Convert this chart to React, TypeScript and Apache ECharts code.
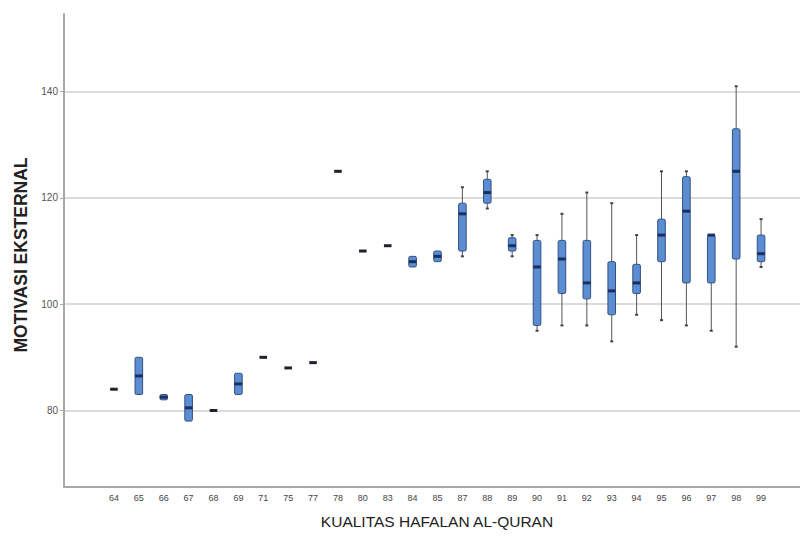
import React, { useEffect, useRef } from "react";
import * as echarts from "echarts";

const categories = ["64","65","66","67","68","69","71","75","77","78","80","83","84","85","87","88","89","90","91","92","93","94","95","96","97","98","99"];
const minValues    = [84, 83, 82,   78,   80, 83, 90, 88, 89, 125, 110, 111, 107, 108, 109, 118,   109,   95, 96,    96,  93,    98,    97,  96,    95, 92,    107];
const q1Values     = [84, 83, 82,   78,   80, 83, 90, 88, 89, 125, 110, 111, 107, 108, 110, 119,   110,   96, 102,   101, 98,    102,   108, 104,   104, 108.5, 108];
const medianValues = [84, 86.5, 82.5, 80.5, 80, 85, 90, 88, 89, 125, 110, 111, 108, 109, 117, 121, 111,   107, 108.5, 104, 102.5, 104,   113, 117.5, 113, 125,   109.5];
const q3Values     = [84, 90, 83,   83,   80, 87, 90, 88, 89, 125, 110, 111, 109, 110, 119, 123.5, 112.5, 112, 112,   112, 108,   107.5, 116, 124,   113, 133,   113];
const maxValues    = [84, 90, 83,   83,   80, 87, 90, 88, 89, 125, 110, 111, 109, 110, 122, 125,   113,   113, 117,   121, 119,   113,   125, 125,   113, 141,   116];

const yLabel = "MOTIVASI EKSTERNAL";
const xLabel = "KUALITAS HAFALAN AL-QURAN";
const yMin = 65.6;
const yMax = 154.6;

export default function App() {
  const ref = useRef<HTMLDivElement>(null);
  useEffect(() => {
    document.body.style.margin = "0";
    const chart = echarts.init(ref.current!, null, { renderer: "svg" });
    const data = categories.map((_, i) => [i, minValues[i], q1Values[i], medianValues[i], q3Values[i], maxValues[i]]);
    const font = "'Liberation Sans', Arial, sans-serif";
    const top = 14;
    const bottom = 53;
    chart.setOption({
      animation: false,
      backgroundColor: "#ffffff",
      grid: [
        { left: 64, right: 0, top, bottom },
        { left: 101.5, right: 26.5, top, bottom },
      ],
      xAxis: [
        {
          gridIndex: 0, type: "value", min: 0, max: 1,
          axisLine: { show: true, lineStyle: { color: "#a8a8a8", width: 2 } },
          axisTick: { show: false }, axisLabel: { show: false }, splitLine: { show: false },
        },
        {
          gridIndex: 1, type: "category", data: categories,
          axisLine: { show: false }, axisTick: { show: false }, splitLine: { show: false },
          axisLabel: { color: "#444", fontSize: 9, fontFamily: font, margin: 6, interval: 0 },
        },
      ],
      yAxis: [
        {
          gridIndex: 0, type: "value", min: yMin, max: yMax, splitNumber: 5,
          axisLine: { show: true, lineStyle: { color: "#a8a8a8", width: 2 } },
          axisTick: { show: true, length: 4, lineStyle: { color: "#a8a8a8" } },
          axisLabel: { color: "#555", fontSize: 10, fontFamily: font, margin: 6, showMinLabel: false, showMaxLabel: false },
          splitLine: { show: true, showMinLine: false, showMaxLine: false, lineStyle: { color: "#cfcfcf", width: 1.5 } },
        },
        {
          gridIndex: 1, type: "value", min: yMin, max: yMax, show: false, splitLine: { show: false },
        },
      ],
      series: [
        {
          type: "custom",
          coordinateSystem: "cartesian2d",
          xAxisIndex: 1,
          yAxisIndex: 1,
          encode: { x: 0, y: [1, 2, 3, 4, 5] },
          data,
          renderItem: (params: any, api: any) => {
            const xi = api.value(0);
            const pMin = api.coord([xi, api.value(1)]);
            const pQ1 = api.coord([xi, api.value(2)]);
            const pMed = api.coord([xi, api.value(3)]);
            const pQ3 = api.coord([xi, api.value(4)]);
            const pMax = api.coord([xi, api.value(5)]);
            const cx = pMed[0];
            const hw = 3.8;
            const children: any[] = [];
            const wStyle = { stroke: "#555", lineWidth: 1 };
            if (api.value(1) < api.value(2)) {
              children.push({ type: "line", shape: { x1: cx, y1: pQ1[1], x2: cx, y2: pMin[1] }, style: wStyle });
              children.push({ type: "line", shape: { x1: cx - 1.5, y1: pMin[1], x2: cx + 1.5, y2: pMin[1] }, style: { stroke: "#444", lineWidth: 2 } });
            }
            if (api.value(5) > api.value(4)) {
              children.push({ type: "line", shape: { x1: cx, y1: pQ3[1], x2: cx, y2: pMax[1] }, style: wStyle });
              children.push({ type: "line", shape: { x1: cx - 1.5, y1: pMax[1], x2: cx + 1.5, y2: pMax[1] }, style: { stroke: "#444", lineWidth: 2 } });
            }
            const h = pQ1[1] - pQ3[1];
            if (h > 0.5) {
              children.push({
                type: "rect",
                shape: { x: cx - hw, y: pQ3[1], width: hw * 2, height: h, r: 1.5 },
                style: { fill: "#5b8dd3", stroke: "#34507f", lineWidth: 1 },
              });
            }
            children.push({
              type: "line",
              shape: { x1: cx - hw, y1: pMed[1], x2: cx + hw, y2: pMed[1] },
              style: { stroke: h > 0.5 ? "#1c2f5e" : "#1e2230", lineWidth: 3 },
            });
            return { type: "group", children };
          },
        },
      ],
      graphic: [
        {
          type: "text", x: 21, y: 255, rotation: Math.PI / 2,
          style: { text: yLabel, fill: "#222", font: `bold 17.5px ${font}`, align: "center", verticalAlign: "middle" },
        },
        {
          type: "text", x: 437, y: 521,
          style: { text: xLabel, fill: "#222", font: `15.5px ${font}`, align: "center", verticalAlign: "middle" },
        },
      ],
    });
    return () => chart.dispose();
  }, []);
  return <div ref={ref} style={{ width: 800, height: 540 }} />;
}
